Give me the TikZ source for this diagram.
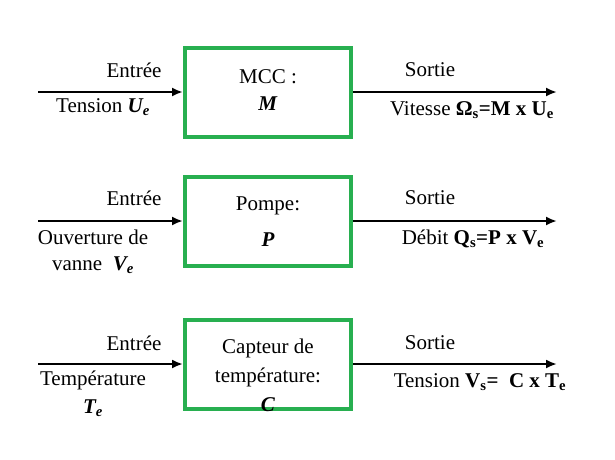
\documentclass[tikz,border=0pt]{standalone}
\usepackage{fontspec}
\setmainfont{Liberation Serif}
\usetikzlibrary{arrows.meta}
\definecolor{gbox}{RGB}{40,175,80}
\begin{document}
\begin{tikzpicture}[x=1pt,y=-1pt,
  blk/.style={draw=gbox,line width=4pt,minimum width=166pt,minimum height=89pt,inner sep=0pt},
  arr/.style={line width=2.2pt,-{Latex[length=11pt,width=9pt]}},
  txt/.style={font=\fontsize{21}{24}\selectfont,inner sep=0pt},
  every node/.style={txt}]
\useasboundingbox (0,0) rectangle (615,459);
\foreach \r/\y in {1/92,2/221,3/364}{
  \node[blk] (b\r) at (268,\y) {};
  \coordinate (l\r) at (38,\y);
  \coordinate (r\r) at (557,\y);
  \draw[arr] (l\r) -- (b\r.west);
  \draw[arr] (b\r.east) -- (r\r);
}
% row 1
\node (e1) at (134,70) {Entrée};
\node (s1) at (430,70) {Sortie};
\node (i1) at (103,107) {Tension \textbf{\textit{U\textsubscript{e}}}};
\node (o1) at (472,110) {Vitesse \textbf{Ω\textsubscript{s}=M x U\textsubscript{e}}};
\node (t1a) at (268,77) {MCC :};
\node (t1b) at (268,104) {\textbf{\textit{M}}};
% row 2
\node (e2) at (134,198) {Entrée};
\node (s2) at (430,198) {Sortie};
\node (i2) at (93,237) {Ouverture de};
\node (i2b) at (93,265) {vanne \ \textbf{\textit{V\textsubscript{e}}}};
\node (o2) at (473,239) {Débit \textbf{Q\textsubscript{s}=P x V\textsubscript{e}}};
\node (t2a) at (268,206) {Pompe:};
\node (t2b) at (268,240) {\textbf{\textit{P}}};
% row 3
\node (e3) at (134,343) {Entrée};
\node (s3) at (430,343) {Sortie};
\node (i3) at (93,380) {Température};
\node (i3b) at (93,408) {\textbf{\textit{T\textsubscript{e}}}};
\node (o3) at (480,382) {Tension \textbf{V\textsubscript{s}= \ C x T\textsubscript{e}}};
\node (t3a) at (268,348) {Capteur de};
\node (t3b) at (268,377) {température:};
\node (t3c) at (268,405) {\textbf{\textit{C}}};
\end{tikzpicture}
\end{document}
